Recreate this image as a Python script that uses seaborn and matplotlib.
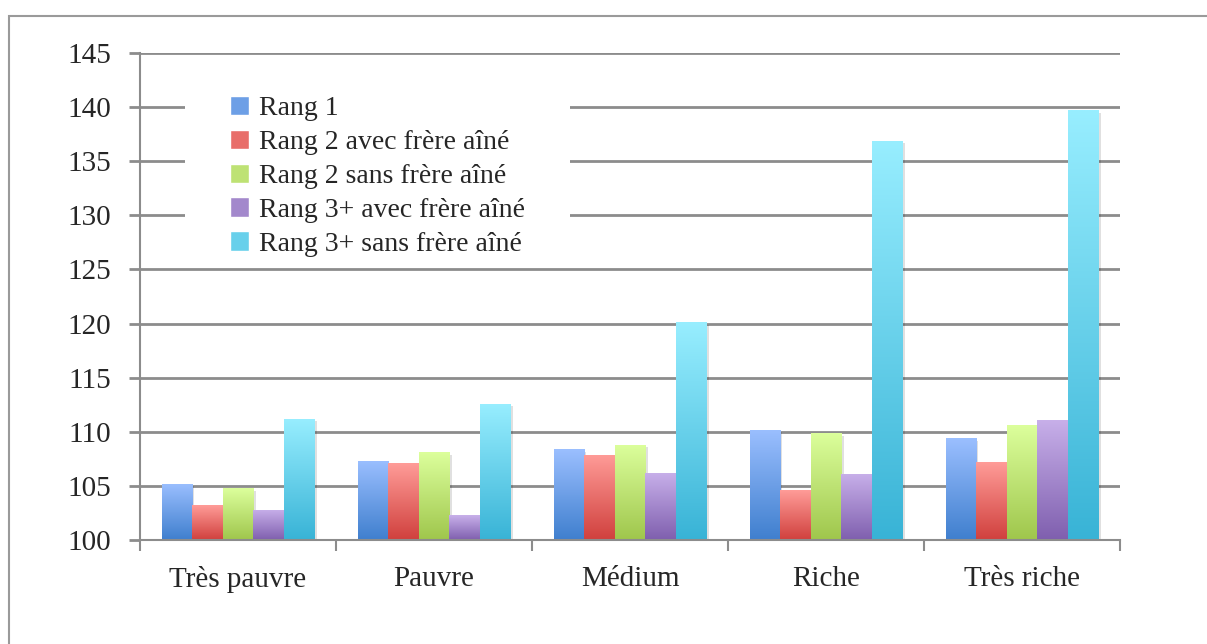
import numpy as np
import pandas as pd
import matplotlib.pyplot as plt
import matplotlib.colors as mcolors
from matplotlib.patches import Rectangle
import seaborn as sns

# data
categories = ['Très pauvre', 'Pauvre', 'Médium', 'Riche', 'Très riche']
series = ['Rang 1', 'Rang 2 avec frère aîné', 'Rang 2 sans frère aîné',
          'Rang 3+ avec frère aîné', 'Rang 3+ sans frère aîné']
rang1 = [105.2, 107.3, 108.4, 110.2, 109.4]
rang2_avec = [103.2, 107.1, 107.9, 104.6, 107.2]
rang2_sans = [104.8, 108.1, 108.8, 109.9, 110.6]
rang3_avec = [102.8, 102.3, 106.2, 106.1, 111.1]
rang3_sans = [111.2, 112.6, 120.1, 136.9, 139.7]

# top / bottom gradient colours per series
top_cols = ['#9bbfff', '#ff9c98', '#dcff9c', '#c8b0ea', '#98eeff']
bot_cols = ['#3f7fce', '#d0403d', '#9fc64c', '#7f5fae', '#38b3d6']

df = pd.DataFrame({
    'cat': categories * 5,
    'serie': np.repeat(series, 5),
    'val': rang1 + rang2_avec + rang2_sans + rang3_avec + rang3_sans,
})

sns.set_style('white')
plt.rcParams['font.family'] = ['Liberation Serif', 'DejaVu Serif']

W, H = 1207, 644
fig = plt.figure(figsize=(W / 100, H / 100), dpi=100)
ax = fig.add_axes([140 / W, 1 - 540 / H, 980 / W, 487 / H])

sns.barplot(data=df, x='cat', y='val', hue='serie', order=categories,
            hue_order=series, palette=bot_cols, width=0.78, ax=ax,
            legend=False, zorder=3, linewidth=0)

# gradient fill on every bar
for i, cont in enumerate(ax.containers):
    cmap = mcolors.LinearSegmentedColormap.from_list('g', [bot_cols[i], top_cols[i]])
    for p in cont.patches:
        x0, w = p.get_x(), p.get_width()
        y1 = p.get_height()
        # soft shadow
        sh = Rectangle((x0 + 0.012, 100), w, y1 - 100 - 0.25, facecolor='#000000',
                       alpha=0.12, zorder=2, linewidth=0)
        ax.add_patch(sh)
        grad = np.linspace(0, 1, 256).reshape(-1, 1)
        im = ax.imshow(grad, cmap=cmap, origin='lower', aspect='auto',
                       extent=(x0, x0 + w, 100, y1), zorder=4)
        im.set_clip_path(p)
ax.set_xlim(-0.5, 4.5)
ax.set_ylim(100, 145)

ax.set_yticks(np.arange(100, 146, 5))
ax.yaxis.grid(True, color='#8c8c8c', linewidth=2, zorder=0)
ax.set_axisbelow(True)
ax.set_xticks(np.arange(-0.5, 4.6, 1))
ax.set_xticklabels([])
ax.set_xticks(range(5), minor=True)
ax.set_xticklabels(categories, minor=True)
ax.tick_params(axis='x', which='minor', length=0, pad=19, labelsize=21, bottom=False)
ax.tick_params(axis='x', which='major', length=8, width=1.5, color='#8c8c8c',
               direction='out', bottom=True)
ax.tick_params(axis='y', length=8, width=2, color='#8c8c8c', direction='out',
               labelsize=21, pad=13, left=True)
ax.set_xlabel('')
ax.set_ylabel('')
for s in ['top', 'right']:
    ax.spines[s].set_visible(False)
for s in ['left', 'bottom']:
    ax.spines[s].set_color('#8c8c8c')
    ax.spines[s].set_linewidth(1.5)
    ax.spines[s].set_zorder(5)

# white block behind the legend (hides the gridlines there)
fig.patches.append(Rectangle((185 / W, 1 - 257 / H), 385 / W, 165 / H,
                             transform=fig.transFigure, facecolor='white',
                             edgecolor='none', zorder=1))
ax.set_zorder(0)
ax.patch.set_alpha(0)

# legend handles
handles = [Rectangle((0, 0), 1, 1, facecolor=mcolors.to_hex(
    (np.array(mcolors.to_rgb(top_cols[i])) + np.array(mcolors.to_rgb(bot_cols[i]))) / 2))
    for i in range(5)]
leg = fig.legend(handles, series, loc='upper left',
                 bbox_to_anchor=(230 / W, 1 - 96 / H), frameon=False, fontsize=20,
                 handlelength=0.7, handleheight=0.7, handletextpad=0.35,
                 labelspacing=0.3, borderpad=0.0, borderaxespad=0)
leg.set_zorder(6)

# outer frame
fig.patches.append(Rectangle((8.5 / W, -0.05), 1.2, 1 - 15.5 / H + 0.05,
                             transform=fig.transFigure, fill=False,
                             edgecolor='#9a9a9a', linewidth=1.5))

fig.savefig('out.png', dpi=100, facecolor='white')
